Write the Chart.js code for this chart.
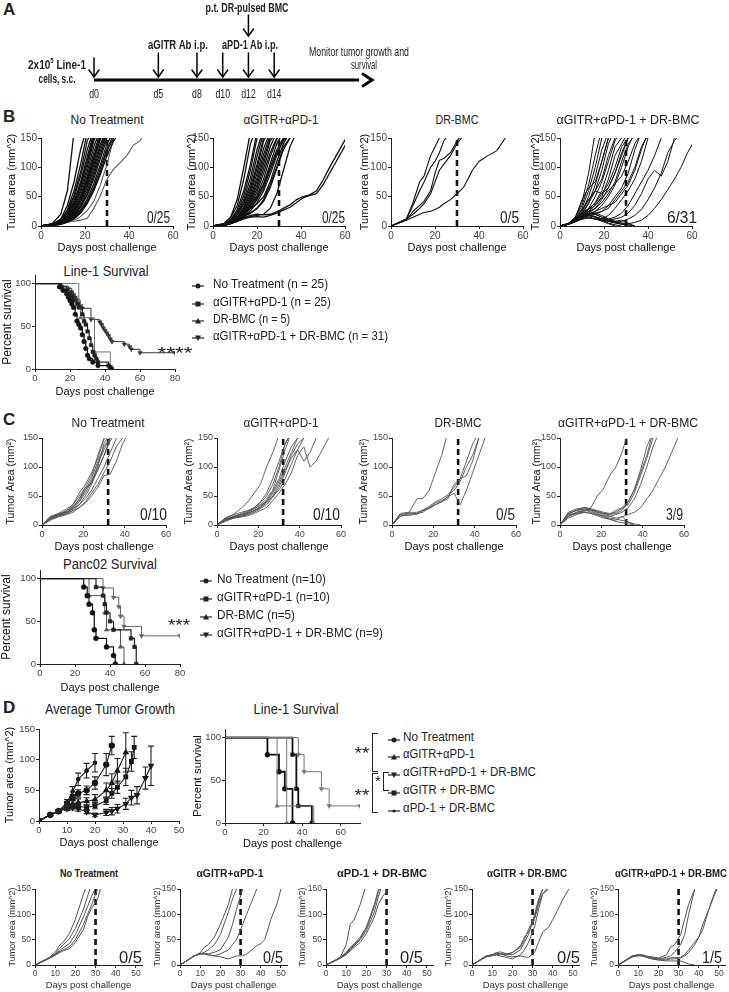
<!DOCTYPE html>
<html><head><meta charset="utf-8">
<script src="https://cdn.jsdelivr.net/npm/chart.js@4.4.0/dist/chart.umd.min.js"></script>
<style>
body{margin:0;background:#fff;width:729px;height:992px;position:relative;overflow:hidden;font-family:"Liberation Sans",Arial,sans-serif;color:#222}
canvas{position:absolute}
.t{position:absolute;white-space:nowrap;line-height:1}
.br{position:absolute;border:1.5px solid #222;border-right:none}
</style></head><body>
<script>
// ================= DATA =================
// Panel A timeline
const aDays = [0,5,8,10,12,14];
const aBmcDay = 12;
const aEnd = 21.6;

// Panel B tumour growth (Line-1)
const bDays = [0,5,9,12,15,18,21,24,27,30,33,36,39,42,45,48];
const bNoTx = [
 [0,4,20,60,160],[0,3,12,35,75,130,170],[0,3,10,28,60,105,160],[0,3,9,25,52,92,145,170],
 [0,3,8,22,48,85,130,165],[0,2,8,20,42,75,118,160],[0,2,7,18,38,68,108,150],[0,3,8,20,40,70,110,155],
 [0,2,7,17,35,62,100,145,170],[0,2,6,15,32,58,92,135,165],[0,2,6,14,30,52,85,125,160],[0,2,5,13,27,48,80,118,155],
 [0,2,5,12,25,45,74,110,148,170],[0,2,6,13,26,44,70,104,140,165],[0,2,5,11,22,40,66,98,135,160],[0,1,4,10,20,36,60,92,128,160],
 [0,2,5,10,19,33,55,86,122,155],[0,1,4,9,18,32,52,80,115,150],[0,2,4,9,16,28,46,72,105,140,160],[0,1,4,8,15,26,42,66,98,132,155],
 [0,1,3,7,13,24,40,62,92,128,150],[0,1,3,7,12,22,38,60,88,120,145,160],[0,2,5,11,24,45,78,115,150]
];
const bNoTxSlow = [[0,1,3,6,10,16,26,42,70,105,150],[0,3,5,7,8,10,13,30,52,80,97,108,120,138,145,165]];
const bGPDays = [0,5,8,11,14,17,20,23,26,29,32,35,38,41,44,47,50,53,56,59,62];
const bGP = [
 [0,4,15,45,100,160],[0,4,14,35,80,140,170],[0,3,10,28,60,105,160],[0,3,9,24,52,95,150],
 [0,3,8,20,45,82,130,165],[0,2,7,18,40,72,118,160],[0,3,8,19,38,65,105,150],[0,2,6,15,33,60,98,145,165],
 [0,2,6,14,30,55,90,132,160],[0,2,5,13,27,50,82,122,155],[0,2,5,12,25,46,76,114,150],[0,2,5,11,23,42,70,106,145,160],
 [0,2,4,10,21,38,64,98,135,160],[0,2,4,9,19,35,58,90,125,150],[0,2,5,12,22,34,52,80,118,148,160],[0,1,4,9,17,30,48,72,106,140,160],
 [0,2,6,14,25,36,50,70,100,130,150],[0,2,5,12,20,30,45,65,95,125,145,160],[0,1,4,8,15,26,40,60,88,120,148,160],
 [0,2,6,13,22,30,38,50,75,110,140,160],[0,2,5,10,16,22,30,42,65,98,130,150],[0,2,5,10,14,16,18,20,30,55,95,135,160],
 [0,1,4,8,12,15,16,15,18,22,27,32,40,48,52,55,70,90,110,130,150],[0,2,5,9,14,18,20,19,20,24,30,36,45,50,53,60,78,100,120,140,160],
 [0,2,6,12,18,22,30,45,70,100,135,150]
];
const bDrDays = [0,7,10,13,15,18,20,22,24,27,30,33,35,37,40,44,48,52];
const bDr = [
 [0,12,40,75,85,120,135,150],[0,12,35,60,75,100,110,125,145,160],
 [0,10,25,35,42,60,90,112,115,125,145,160],[0,12,20,30,38,55,75,95,105,120,140,155],
 [0,10,15,20,23,25,28,32,38,45,55,66,80,95,110,120,128,150]
];
const bComboDays = [0,4,7,10,13,16,19,22,25,28,31,34,37,40,43,46,49,52,55,58,61];
const bCombo = [
 [0,5,15,40,90,160],[0,5,14,35,70,120,165],[0,4,12,30,60,100,150],[0,5,15,45,65,75,110,150],
 [0,4,10,25,50,85,130,160],[0,4,10,22,40,70,110,150],[0,3,9,20,38,60,95,140,165],[0,4,12,28,45,60,80,120,150],
 [0,3,8,18,30,50,75,110,145,165],[0,4,10,20,28,40,60,95,135,150],[0,3,9,18,25,35,50,80,120,140,160],
 [0,4,12,22,30,38,55,72,100,135,150],[0,3,8,15,22,30,45,65,90,125,150],[0,4,10,18,25,30,40,55,75,110,140,155],
 [0,3,9,16,20,25,35,50,70,100,135,160],[0,4,11,20,28,35,48,60,72,85,110,140,160],[0,3,8,15,18,20,25,35,50,65,90,130,160],
 [0,4,10,16,20,22,25,30,45,60,75,100,135,155],[0,3,8,14,18,15,12,18,30,45,60,80,110,150],
 [0,4,10,18,22,20,15,12,15,22,35,55,75,95,120,150],[0,3,9,15,18,16,12,10,12,15,22,35,55,80,95,85,110,150],
 [0,3,8,12,14,12,10,8,6,5,4,6,10,18,30,45,62,80,100,125,145],[0,3,8,12,14,12,10,8,6,8,12,18,28,45,65,90,125,145,160],
 [0,4,12,20,25,22,18,12,8,5,2,0],[0,3,10,18,22,20,15,10,6,3,0],[0,4,9,15,18,15,10,5,2,0],[0,3,8,14,16,12,8,4,0],
 [0,4,10,18,20,16,12,10,8,10,5,0],[0,3,7,12,14,12,10,8,5,3,2,0],[0,4,9,16,20,25,30,35,40,55,70,95,130,160],
 [0,3,10,25,45,60,55,65,90,120,150]
];
const bFrac = ['0/25','0/25','0/5','6/31'];

// Panel B survival (day, percent)
const bSurvNoTxT = [0,14,16,18,19,20,21,22,23,24,25,26,27,28,29,30,31,33,36,43];
const bSurvNoTxP = [100,96,92,88,84,80,76,72,64,56,52,48,40,32,24,16,12,8,4,0];
const bSurvGPT = [0,15,18,20,21,22,24,25,27,28,29,30,31,32,33,34,35,36,42,44];
const bSurvGPP = [100,96,92,88,84,80,76,72,64,56,52,44,36,28,20,16,12,8,4,0];
const bSurvDrT = [0,25,26,34,43];
const bSurvDrP = [100,80,60,20,0];
const bSurvComboT = [0,15,19,21,22,23,24,25,26,27,32,37,38,39,40,41,42,43,44,51,54,55,60,80];
const bSurvComboP = [100,97,94,90,87,84,81,77,74,71,58,55,52,48,45,42,39,35,32,29,26,23,19,19];

// Panel C tumour growth (Panc02)
const cDays = [0,4,8,12,15,18,21,24,27,30,33,36,39,42,45,48,51,54,57];
const cNoTx = [
 [0,12,18,20,30,45,65,85,120,150],[0,15,20,22,28,40,55,75,100,140,160],[0,10,15,25,35,55,70,90,115,148,160],
 [0,14,18,25,32,40,60,80,110,135,150],[0,12,16,20,25,35,50,70,95,120,145,160],[0,10,20,28,35,50,65,70,105,130,150],
 [0,12,18,22,28,35,45,60,80,100,125,150],[0,8,14,18,22,30,40,55,70,90,110,135,150],[0,12,15,20,25,30,38,50,65,85,88,110,140,160],
 [0,10,18,24,30,45,60,75,95,120,150]
];
const cGP = [
 [0,12,18,30,40,55,70,100,125,155],[0,10,15,18,22,30,40,55,80,110,140,160],[0,8,12,16,22,28,35,45,60,95,130,160],
 [0,12,18,22,25,30,38,50,70,100,140,160],[0,10,14,18,20,25,32,42,58,80,110,135,150],[0,8,15,20,24,28,34,40,55,75,100,125,150],
 [0,10,12,15,18,22,28,35,48,65,90,120,140,150],[0,6,12,15,20,25,30,40,50,60,80,105,130,110,125,150],
 [0,8,12,14,16,20,25,30,42,55,70,90,120,135,100,110,130,150],[0,10,14,18,20,24,30,38,50,70,95,115,130,150]
];
const cDr = [
 [0,18,20,45,46,60,90,120,160],[0,20,22,18,25,30,35,40,45,70,80,85,110,150],
 [0,15,20,22,25,28,35,40,50,60,75,100,120,150],[0,18,16,20,22,30,38,42,48,55,35,60,90,120,150],
 [0,15,18,20,26,32,40,45,52,65,80,110,140,160]
];
const cCombo = [
 [0,15,22,25,30,50,62,85,100,125,160],[0,20,25,28,26,24,20,18,25,30,40,60,90,120,160],
 [0,18,26,30,28,25,22,20,22,28,35,55,85,115,150],[0,22,28,30,27,22,20,18,20,25,40,62,95,135,160],
 [0,15,20,24,26,22,18,15,18,22,30,45,70,100,135,160],[0,12,18,22,20,18,16,15,12,14,18,22,30,45,60,80,100,125,150],
 [0,20,25,28,24,20,15,12,10,8,5,2,0],[0,15,22,26,22,18,14,10,8,15,5,0],[0,18,20,22,20,16,12,10,6,4,2,0]
];
const cFrac = ['0/10','0/10','0/5','3/9'];

// Panel C survival
const cSurvNoTxT = [0,25,27,28,30,31,32,38,42,43];
const cSurvNoTxP = [100,90,80,70,60,40,30,20,10,0];
const cSurvGPT = [0,32,36,37,38,40,42,52,54,55];
const cSurvGPP = [100,90,80,70,60,50,40,30,20,0];
const cSurvDrT = [0,28,37,38,46,48];
const cSurvDrP = [100,80,60,40,20,0];
const cSurvComboT = [0,36,42,45,46,48,58,80];
const cSurvComboP = [100,89,78,67,56,44,33,33];

// Panel D average growth (mean, SEM)
const dAvgNoTxT = [0,4,7,10,12,14,17,20,24,26];
const dAvgNoTx = [0,10,16,28,38,45,50,62,92,123];
const dAvgNoTxE = [0,1,2,4,5,6,7,10,18,15];
const dAvgGPT = [0,4,7,10,12,14,17,20,24,26,28,31];
const dAvgGP = [0,10,16,24,28,30,32,35,50,62,82,112];
const dAvgGPE = [0,1,2,4,5,6,6,8,12,15,20,32];
const dAvgComboT = [0,4,7,10,12,14,17,20,24,26,28,31,33,35,38,40];
const dAvgCombo = [0,10,16,20,22,20,15,10,14,16,20,28,38,42,70,90];
const dAvgComboE = [0,1,2,3,4,4,3,3,5,6,7,9,12,14,18,32];
const dAvgGDrT = [0,4,7,10,12,14,17,20,24,26,28,31,33,34];
const dAvgGDr = [0,10,16,22,24,24,22,25,33,45,55,72,97,120];
const dAvgGDrE = [0,1,2,3,4,4,4,5,6,8,10,14,16,18];
const dAvgPDrT = [0,4,7,10,12,14,17,20];
const dAvgPDr = [0,10,16,30,48,68,82,95];
const dAvgPDrE = [0,1,2,5,8,10,12,15];

// Panel D survival
const dSurvNoTxT = [0,22,28,31,35];     const dSurvNoTxP = [100,80,60,40,0];
const dSurvGPT = [0,27,46];             const dSurvGPP = [100,20,0];
const dSurvComboT = [0,38,41,50,54,70]; const dSurvComboP = [100,80,60,40,20,20];
const dSurvGDrT = [0,35,37,38,45];      const dSurvGDrP = [100,80,40,20,0];
const dSurvPDrT = [0,32];               const dSurvPDrP = [100,0];

// Panel D individual growth
const dDays = [0,4,7,10,12,14,17,20,24,26,28,31,33,35,38,40,42,45,48,50];
const dNoTx = [[0,8,15,25,38,45,62,90,140,160],[0,8,14,22,32,40,52,72,110,135,160],[0,8,14,21,28,34,42,60,95,115,135,160],
 [0,8,13,20,26,30,36,50,80,100,118,150],[0,7,13,19,24,28,32,45,70,95,112,130,160]];
const dGP = [[0,10,18,24,35,40,55,80,120,150],[0,10,18,22,25,30,40,60,105,130,150],[0,10,18,22,23,22,25,30,55,80,110,150],
 [0,10,18,22,22,20,18,22,30,40,50,80,100,120,150],[0,10,18,22,22,20,18,16,12,15,18,18,22,28,38,42,50,90,120,150]];
const dPDr = [[0,8,15,40,80,90,120,160],[0,8,15,25,35,42,55,75,120,150],[0,8,14,24,32,40,52,72,115,145,160],
 [0,8,14,22,30,38,50,68,105,135,160],[0,7,13,20,28,35,45,62,95,120,135,150]];
const dGDr = [[0,10,18,20,24,26,22,20,30,45,60,100,130,150],[0,10,18,20,22,22,20,25,35,50,70,95,125,150],
 [0,10,17,20,20,22,22,24,38,55,65,90,120,140,155],[0,10,16,18,20,18,15,12,20,30,45,75,110,140,150],
 [0,9,16,20,24,22,18,16,18,16,15,25,45,65,75,90,105,130,150]];
const dCombo = [[0,10,18,20,20,18,16,14,20,35,40,60,90,120,150],[0,10,18,20,18,16,14,12,15,18,25,40,60,100,150],
 [0,10,17,20,20,16,12,10,10,12,12,14,18,25,40,55,70,110,140,160],[0,9,16,19,18,16,14,12,12,14,15,15,20,30,45,55,80,110,145,160],
 [0,9,16,18,18,15,12,10,8,8,8,8,5,2,0]];
const dFrac = ['0/5','0/5','0/5','0/5','1/5'];

// ================= HELPERS =================
const FONT='"Liberation Sans", Arial, sans-serif';
Chart.defaults.font.family=FONT;
Chart.defaults.color='#333';

function T(s,x,y,o){o=o||{};const d=document.createElement('div');d.className='t';d.innerHTML=s;
 d.style.left=x+'px';d.style.top=y+'px';d.style.fontSize=(o.fs||13)+'px';
 if(o.b)d.style.fontWeight='bold'; d.style.color=o.c||'#222';
 document.body.appendChild(d);
 const tx=o.al==='l'?'0':(o.al==='r'?'-100%':'-50%');
 d.style.transformOrigin=o.al==='l'?'left center':(o.al==='r'?'right center':'center center');
 let sc='';
 if(o.w){const nat=d.getBoundingClientRect().width;if(nat>0)sc=' scaleX('+(o.w/nat).toFixed(3)+')';}
 d.style.transform='translate('+tx+',-50%)'+sc;
 return d;}

function xAx(max,step,title,o){return {type:'linear',min:0,max:max,
 ticks:{stepSize:step,includeBounds:false,font:{size:o.tf},color:'#444',padding:1,maxRotation:0,autoSkip:false},
 grid:{display:true,drawOnChartArea:false,drawTicks:true,tickLength:3,color:'#222',lineWidth:1},
 border:{display:true,color:'#222',width:1},
 title:{display:true,text:title,font:{size:o.xf},color:o.tc||'#111',padding:0}};}
function yAx(max,step,title,o){return {type:'linear',min:0,max:max,
 ticks:{stepSize:step,includeBounds:false,font:{size:o.tf},color:'#444',padding:1,autoSkip:false},
 grid:{display:true,drawOnChartArea:false,drawTicks:true,tickLength:3,color:'#222',lineWidth:1},
 border:{display:true,color:'#222',width:1},
 title:{display:true,text:title,font:{size:o.yf},color:o.tc||'#111',padding:0}};}

// a = chart area box; o.ytx = y-title centre x, o.xty = x-title centre y
function mk(a,cfg,o,plugins){
 const pt=9,pr=12;
 const yW=Math.round(a.l-o.ytx+o.yf*0.6), xH=Math.round(o.xty-a.b+o.xf*0.6);
 const c=document.createElement('canvas');
 const W=Math.round(a.r-a.l+yW+pr), H=Math.round(a.b-a.t+pt+xH);
 c.width=W;c.height=H;c.style.width=W+'px';c.style.height=H+'px';
 c.style.left=(a.l-yW)+'px';c.style.top=(a.t-pt)+'px';
 document.body.appendChild(c);
 cfg.options.responsive=false;cfg.options.animation=false;cfg.options.devicePixelRatio=1;
 cfg.options.layout={padding:{top:pt,right:pr,left:0,bottom:0}};
 cfg.options.plugins={legend:{display:false},tooltip:{enabled:false}};
 cfg.options.scales.x.afterFit=s=>{s.height=xH;};
 cfg.options.scales.y.afterFit=s=>{s.width=yW;};
 if(plugins)cfg.plugins=plugins;
 return new Chart(c,cfg);
}

function lineDs(days,vals,col,lw){return {data:vals.map((v,i)=>({x:days[i],y:v})),showLine:true,borderColor:col,borderWidth:lw,pointRadius:0,tension:0,fill:false};}

function spag(a,days,curves,o){
 const ds=curves.map(v=>lineDs(days,v,o.col,o.lw));
 if(o.extra)o.extra.forEach(v=>ds.push(lineDs(days,v,o.extraCol,o.lw*0.8)));
 ds.push({data:[{x:o.cut,y:0},{x:o.cut,y:o.ymax}],showLine:true,borderColor:'#111',borderWidth:o.dw||2.6,borderDash:o.dash||[6,4],pointRadius:0});
 mk(a,{type:'scatter',data:{datasets:ds},options:{scales:{x:xAx(o.xmax,o.xstep,'Days post challenge',o),y:yAx(o.ymax,50,o.ytitle,o)}}},o);
}

function survDs(t,p,col,lw,ps,r,rot){return {data:t.map((x,i)=>({x:x,y:p[i]})),showLine:true,stepped:'before',borderColor:col,borderWidth:lw,
 pointStyle:ps,rotation:rot||0,pointRadius:c=>c.dataIndex===0?0:r,pointBackgroundColor:col,pointBorderColor:col,pointBorderWidth:0.5,fill:false};}

function surv(a,ds,o){
 mk(a,{type:'scatter',data:{datasets:ds},options:{scales:{x:xAx(o.xmax,20,'Days post challenge',o),y:yAx(110,50,'Percent survival',o)}}},o);
}

function legend(rows,x,ys,o){
 rows.forEach((r,i)=>{
  const y=ys[i];
  const s=document.createElement('div');s.className='t';s.style.left=(x-8)+'px';s.style.top=(y-5)+'px';
  let m='';
  if(r.ps==='circle')m='<circle cx="8" cy="5" r="2.5" fill="#222"/>';
  else if(r.ps==='rect')m='<rect x="5.5" y="2.5" width="5" height="5" fill="#222"/>';
  else if(r.ps==='tri')m='<polygon points="8,2 11,7.5 5,7.5" fill="#222"/>';
  else if(r.ps==='itri')m='<polygon points="8,8 11,2.5 5,2.5" fill="#222"/>';
  else m='<circle cx="8" cy="5" r="1.6" fill="#222"/>';
  s.innerHTML='<svg width="16" height="10"><line x1="2" y1="5" x2="14" y2="5" stroke="#222" stroke-width="1.2"/>'+m+'</svg>';
  document.body.appendChild(s);
  T(r.t,o.tx,y,{fs:o.fs,al:'l',w:r.w});
 });
}

// ================= PANEL A =================
T('A',3,9,{fs:17,b:true,al:'l'});
const tlPlugin={id:'tl',afterDatasetsDraw(chart){
 const ctx=chart.ctx,x=chart.scales.x,y=chart.scales.y,y0=y.getPixelForValue(0);
 ctx.save();ctx.strokeStyle='#000';ctx.fillStyle='#222';ctx.lineCap='round';
 const xe=x.getPixelForValue(aEnd);
 ctx.lineWidth=3;ctx.beginPath();ctx.moveTo(xe-9,y0-6);ctx.lineTo(xe,y0);ctx.lineTo(xe-9,y0+6);ctx.stroke();
 function arrow(px,y1,y2){ctx.lineWidth=1.5;ctx.beginPath();ctx.moveTo(px,y1);ctx.lineTo(px,y2);ctx.stroke();
  ctx.beginPath();ctx.moveTo(px-5,y2-7);ctx.lineTo(px,y2);ctx.lineTo(px+5,y2-7);ctx.stroke();}
 ctx.font='12.5px '+FONT;ctx.textAlign='center';ctx.textBaseline='middle';
 aDays.forEach(d=>{const px=x.getPixelForValue(d);arrow(px,d===0?58:53,y0-3);
  ctx.save();ctx.translate(px,y0+15);ctx.scale(0.7,1);ctx.fillText('d'+d,0,0);ctx.restore();});
 const pb=x.getPixelForValue(aBmcDay);arrow(pb,15,36);
 ctx.restore();}};
(function(){
 const c=document.createElement('canvas');c.width=729;c.height=100;c.style.left='0px';c.style.top='0px';document.body.appendChild(c);
 new Chart(c,{type:'scatter',data:{datasets:[{data:[{x:0,y:0},{x:aEnd-1,y:0}],showLine:true,borderColor:'#000',borderWidth:3,pointRadius:0}]},
  options:{responsive:false,animation:false,devicePixelRatio:1,layout:{padding:{left:94,right:729-372,top:0,bottom:0}},
   plugins:{legend:{display:false},tooltip:{enabled:false}},
   scales:{x:{type:'linear',display:false,min:0,max:aEnd},y:{type:'linear',display:false,min:-0.2,max:0.8}}},plugins:[tlPlugin]});
})();
T('p.t. DR-pulsed BMC',247,7,{fs:13,b:true,w:83});
T('aGITR Ab i.p.',178,45,{fs:13.5,b:true,w:60});
T('aPD-1 Ab i.p.',250,45,{fs:13.5,b:true,w:56});
T('2x10<sup style="font-size:8px">5</sup> Line-1',28,64,{fs:13.5,b:true,al:'l',w:58});
T('cells, s.c.',57,79,{fs:13.5,b:true,w:37});
T('Monitor tumor growth and',359,52,{fs:12.5,w:100});
T('survival',364,65,{fs:12.5,w:26});

// ================= PANEL B =================
T('B',3,116,{fs:17,b:true,al:'l'});
const bTitles=['No Treatment','&alpha;GITR+&alpha;PD-1','DR-BMC','&alpha;GITR+&alpha;PD-1 + DR-BMC'];
const bL=[41,213,391,560], bYT=[12,192,365,536], bFracX=[170,345,519,697];
const bCommon={cut:30,ymax:150,xmax:60,xstep:20,tf:10,xf:11,yf:11,ytitle:'Tumor area (mm^2)',xty:248,col:'#111'};
spag({l:bL[0],r:bL[0]+132,t:138,b:226},bDays,bNoTx,Object.assign({},bCommon,{lw:1.3,extra:bNoTxSlow,extraCol:'#555',ytx:bYT[0]}));
spag({l:bL[1],r:bL[1]+132,t:138,b:226},bGPDays,bGP,Object.assign({},bCommon,{lw:1.3,ytx:bYT[1]}));
spag({l:bL[2],r:bL[2]+132,t:138,b:226},bDrDays,bDr,Object.assign({},bCommon,{lw:1.1,ytx:bYT[2]}));
spag({l:bL[3],r:bL[3]+132,t:138,b:226},bComboDays,bCombo,Object.assign({},bCommon,{lw:1.0,ytx:bYT[3]}));
const bTX=[107,281,457,628], bTW=[73,75,43,143];
bTitles.forEach((s,i)=>T(s,bTX[i],119,{fs:13,w:bTW[i]}));
const bFW=[23,23,19,30];
bFrac.forEach((s,i)=>T(s,bFracX[i],218,{fs:16,al:'r',w:bFW[i]}));

T('Line-1 Survival',106,271,{fs:14,w:85});
surv({l:35,r:175,t:274.5,b:368},[
 survDs(bSurvNoTxT,bSurvNoTxP,'#111',1.2,'circle',2.3),
 survDs(bSurvGPT,bSurvGPP,'#222',1.2,'rect',2.5),
 survDs(bSurvDrT,bSurvDrP,'#777',1.0,'triangle',2.6),
 survDs(bSurvComboT,bSurvComboP,'#333',1.0,'triangle',2.5,180)
],{xmax:80,tf:9.5,xf:11,yf:12,ytx:7,xty:391});
T('****',175,354,{fs:16,w:35});
legend([{ps:'circle',t:'No Treatment (n = 25)',w:115},{ps:'rect',t:'&alpha;GITR+&alpha;PD-1 (n = 25)',w:118},{ps:'tri',t:'DR-BMC (n = 5)',w:77},{ps:'itri',t:'&alpha;GITR+&alpha;PD-1 + DR-BMC (n = 31)',w:175}],
 198,[283,301,318,335],{tx:213,fs:13});

// ================= PANEL C =================
T('C',3,419,{fs:17,b:true,al:'l'});
const cL=[42,217,392,560], cYT=[11,189,364,537], cFracX=[167,340,515,683];
const cCommon={cut:32,ymax:150,xmax:60,xstep:20,tf:9,xf:11,yf:10.5,ytitle:'Tumor Area (mm\u00B2)',xty:547,col:'#555',lw:0.9};
[cNoTx,cGP,cDr,cCombo].forEach((cv,i)=>spag({l:cL[i],r:cL[i]+124,t:438,b:525},cDays,cv,Object.assign({},cCommon,{ytx:cYT[i]})));
const cTX=[108,281,458,628], cTW=[73,75,47,140];
bTitles.forEach((s,i)=>T(s,cTX[i],422,{fs:13,w:cTW[i]}));
const cFW=[27,27,19,17];
cFrac.forEach((s,i)=>T(s,cFracX[i],515,{fs:16,al:'r',w:cFW[i]}));

T('Panc02 Survival',110,564,{fs:14,w:94});
surv({l:40,r:180,t:569.5,b:663},[
 survDs(cSurvNoTxT,cSurvNoTxP,'#111',1.2,'circle',2.5),
 survDs(cSurvGPT,cSurvGPP,'#222',1.2,'rect',2.6),
 survDs(cSurvDrT,cSurvDrP,'#555',1.0,'triangle',2.6),
 survDs(cSurvComboT,cSurvComboP,'#666',1.0,'triangle',2.6,180)
],{xmax:80,tf:9.5,xf:11,yf:12,ytx:6,xty:687});
T('***',179,626,{fs:16,w:22});
legend([{ps:'circle',t:'No Treatment (n=10)',w:109},{ps:'rect',t:'&alpha;GITR+&alpha;PD-1 (n=10)',w:113},{ps:'tri',t:'DR-BMC (n=5)',w:78},{ps:'itri',t:'&alpha;GITR+&alpha;PD-1 + DR-BMC (n=9)',w:166}],
 206,[578,596,614,632],{tx:217,fs:13});

// ================= PANEL D =================
T('D',3,707,{fs:17,b:true,al:'l'});
T('Average Tumor Growth',110,709,{fs:14,w:130});
T('Line-1 Survival',296,709,{fs:14,w:85});
const errPlugin={id:'err',afterDatasetsDraw(chart){
 const ctx=chart.ctx,x=chart.scales.x,y=chart.scales.y;
 chart.data.datasets.forEach(ds=>{if(!ds.err)return;ctx.save();ctx.strokeStyle='#222';ctx.lineWidth=1.1;
  ds.data.forEach((p,i)=>{const e=ds.err[i];if(!e)return;const px=x.getPixelForValue(p.x),p1=y.getPixelForValue(p.y+e),p2=y.getPixelForValue(p.y-e);
   ctx.beginPath();ctx.moveTo(px,p1);ctx.lineTo(px,p2);ctx.moveTo(px-3,p1);ctx.lineTo(px+3,p1);ctx.moveTo(px-3,p2);ctx.lineTo(px+3,p2);ctx.stroke();});
  ctx.restore();});}};
function avgDs(t,v,e,ps,r,rot){return {data:t.map((x,i)=>({x:x,y:v[i]})),err:e,showLine:true,borderColor:'#222',borderWidth:1.1,
 pointStyle:ps,rotation:rot||0,pointRadius:r,pointBackgroundColor:'#111',pointBorderColor:'#111',tension:0};}
const dAvgO={tf:9.5,xf:11,yf:11,ytx:10,xty:843};
mk({l:39,r:179,t:729,b:821},{type:'scatter',data:{datasets:[
 avgDs(dAvgNoTxT,dAvgNoTx,dAvgNoTxE,'circle',2.6),
 avgDs(dAvgGPT,dAvgGP,dAvgGPE,'triangle',2.8),
 avgDs(dAvgComboT,dAvgCombo,dAvgComboE,'triangle',2.8,180),
 avgDs(dAvgGDrT,dAvgGDr,dAvgGDrE,'rect',2.6),
 avgDs(dAvgPDrT,dAvgPDr,dAvgPDrE,'circle',1.8)
]},options:{scales:{x:xAx(50,10,'Days post challenge',dAvgO),y:yAx(150,50,'Tumor area (mm^2)',dAvgO)}}},dAvgO,[errPlugin]);

surv({l:225,r:360,t:728.5,b:822},[
 survDs(dSurvPDrT,dSurvPDrP,'#777',1.0,'circle',1.6),
 survDs(dSurvGPT,dSurvGPP,'#777',1.0,'triangle',2.5),
 survDs(dSurvComboT,dSurvComboP,'#777',1.0,'triangle',2.6,180),
 survDs(dSurvNoTxT,dSurvNoTxP,'#111',1.8,'circle',2.5),
 survDs(dSurvGDrT,dSurvGDrP,'#111',1.8,'rect',2.6)
],{xmax:70,tf:9.5,xf:11,yf:11.5,ytx:198,xty:843});
legend([{ps:'circle',t:'No Treatment',w:71},{ps:'tri',t:'&alpha;GITR+&alpha;PD-1',w:72},{ps:'itri',t:'&alpha;GITR+&alpha;PD-1 + DR-BMC',w:133},{ps:'rect',t:'&alpha;GITR + DR-BMC',w:92},{ps:'dot',t:'&alpha;PD-1 + DR-BMC',w:92}],
 394,[737,754,772,790,808],{tx:403,fs:12.5});
(function(){
 const mkBr=(l,t,h,w)=>{const d=document.createElement('div');d.className='br';d.style.left=l+'px';d.style.top=t+'px';d.style.height=h+'px';d.style.width=w+'px';document.body.appendChild(d);};
 mkBr(372,733,37,5);mkBr(372,773,38,5);mkBr(383,772,17,5);
 T('**',362,754,{fs:16,w:15});T('**',362,796,{fs:16,w:15});T('*',378,780,{fs:15});
})();

// small D plots
const dL=[35,180,326,472,618], dYT=[12.5,157.5,302,448,594], dFracX=[142,283,423,580,722];
const dTitles=['No Treatment','&alpha;GITR+&alpha;PD-1','&alpha;PD-1 + DR-BMC','&alpha;GITR + DR-BMC','&alpha;GITR+&alpha;PD-1 + DR-BMC'];
const dTX=[89,230,382,527,671], dTW=[58,67,90,80,112];
const dCommon={cut:30,ymax:150,xmax:53,xstep:10,tf:8.5,xf:9.5,yf:9,ytitle:'Tumor area (mm^2)',xty:985,col:'#555',lw:1.0,tc:'#333'};
[dNoTx,dGP,dPDr,dGDr,dCombo].forEach((cv,i)=>spag({l:dL[i],r:dL[i]+107,t:889,b:965},dDays,cv,Object.assign({},dCommon,{ytx:dYT[i]})));
dTitles.forEach((s,i)=>T(s,dTX[i],873,{fs:10.5,b:true,w:dTW[i]}));
const dFW=[23,20,23,23,20];
dFrac.forEach((s,i)=>T(s,dFracX[i],957,{fs:17,al:'r',w:dFW[i]}));
</script></body></html>
